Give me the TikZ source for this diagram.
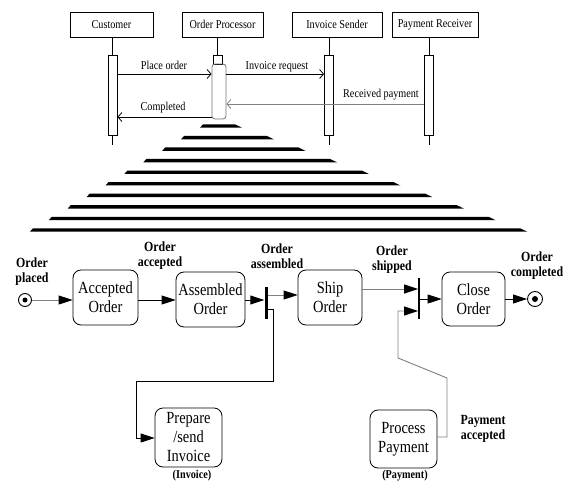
\documentclass[tikz,border=0pt]{standalone}
\usepackage{fontspec}
\setmainfont{Liberation Serif}
\newfontfamily\cond{Liberation Serif}[FakeStretch=0.85]
\usetikzlibrary{arrows.meta,calc}

\begin{document}
\begin{tikzpicture}[x=1pt,y=-1pt,
  seqfont/.style={font=\cond\fontsize{12}{12}\selectfont},
  lbl/.style={seqfont, inner sep=0, anchor=base},
  actor/.style={draw, line width=0.8pt, seqfont, minimum height=25pt, inner sep=0},
  actbar/.style={draw, line width=0.8pt, minimum width=9pt, inner sep=0, fill=white},
  life/.style={line width=0.8pt},
  msg/.style={line width=0.8pt, -{Straight Barb[length=4pt,width=9pt]}},
  state/.style={draw, rounded corners=8pt, line width=0.8pt,
    font=\cond\fontsize{17}{19}\selectfont, align=center, inner sep=0},
  ev/.style={font=\cond\bfseries\fontsize{14}{15}\selectfont, align=center, inner sep=0},
  tag/.style={font=\cond\bfseries\fontsize{12}{12}\selectfont, inner sep=0},
  tr/.style={line width=0.9pt, -{Triangle[length=14pt,width=9pt,black]}},
  grey/.style={draw=black!50},
  pseudo/.style={circle, draw, line width=0.9pt, inner sep=0},
]
\useasboundingbox (0,0) rectangle (567,481);

% ---------- sequence part ----------
\node[actor, minimum width=83pt] (cust) at (111.5,24.5) {Customer};
\node[actor, minimum width=81pt] (proc) at (222.5,24.5) {Order Processor};
\node[actor, minimum width=90pt] (inv)  at (337,24.5)   {Invoice Sender};
\node[actor, minimum width=86pt] (pay)  at (435,24.5)   {Payment Receiver};

\node[actbar, minimum height=80pt] (ca) at (112.5,95) {};
\node[actbar, minimum height=80pt] (ia) at (329,95) {};
\node[actbar, minimum height=80pt] (pa) at (429,95) {};
\node[actbar, minimum height=9pt]  (sq) at (217.5,59.5) {};
\node[draw=black!55, line width=0.8pt, rounded corners=3pt, inner sep=0,
      minimum width=14pt, minimum height=55pt] (oa) at (219,91.5) {};

\draw[life] (cust.south -| ca) -- (ca.north);
\draw[life] (ca.south) -- ++(0,10);
\draw[life] (proc.south -| sq) -- (sq.north);
\draw[life] (inv.south -| ia) -- (ia.north);
\draw[life] (ia.south) -- ++(0,10);
\draw[life] (pay.south -| pa) -- (pa.north);
\draw[life] (pa.south) -- ++(0,10);

\draw[msg] (ca.east |- 0,74) -- (oa.west |- 0,74);
\draw[msg] (oa.east |- 0,74) -- (ia.west |- 0,74);
\draw[msg, grey] (pa.west |- 0,104) -- (oa.east |- 0,104);
\draw[msg] (oa.west |- 0,117) -- (ca.east |- 0,117);

\node[lbl] (m1) at (164,70)  {Place order};
\node[lbl] (m2) at (277,70)  {Invoice request};
\node[lbl] (m3) at (381,98)  {Received payment};
\node[lbl] (m4) at (163,111) {Completed};

% ---------- stacked bars ----------
\foreach \i in {0,...,9} {
  \pgfmathsetmacro{\yy}{126+11.56*\i}
  \pgfmathsetmacro{\ll}{200-18.9*\i}
  \pgfmathsetmacro{\rr}{242+31.7*\i}
  \fill (\ll+3,\yy-1.7) -- (\rr-7,\yy-1.7) -- (\rr,\yy+1.7) -- (\ll,\yy+1.7) -- cycle;
}

% ---------- activity part ----------
\node[pseudo, minimum size=13pt,
      path picture={\fill (path picture bounding box.center) circle (2.5pt);}] (init) at (25,300) {};
\node[pseudo, minimum size=15pt,
      path picture={\fill (path picture bounding box.center) circle (3pt);}] (fin) at (535,299) {};

\node[state, minimum width=65pt, minimum height=55pt] (acc)   at (105.5,297.5) {Accepted\\Order};
\node[state, minimum width=69pt, minimum height=55pt] (asm)   at (210.5,299.5) {Assembled\\Order};
\node[state, minimum width=64pt, minimum height=55pt] (ship)  at (330,297.5)   {Ship\\Order};
\node[state, minimum width=63pt, minimum height=54pt] (close) at (473.5,299)   {Close\\Order};
\node[state, minimum width=67pt, minimum height=59pt] (prep)  at (188.5,437.5) {Prepare\\/send\\Invoice};
\node[state, minimum width=67pt, minimum height=58pt] (procp) at (403.5,439)   {Process\\Payment};

\node[fill, inner sep=0, minimum width=3pt, minimum height=32pt] (fork) at (266,303) {};
\node[fill, inner sep=0, minimum width=1.2pt, minimum height=41pt] (join) at (419,298.5) {};

\draw[tr, grey] (init) -- (acc.west |- init);
\draw[tr] (acc.east |- 0,300) -- (asm.west |- 0,300);
\draw[tr] (asm.east |- 0,300) -- (fork.west |- 0,300);
\draw[tr, grey] (fork.east |- 0,295) -- (ship.west |- 0,295);
\draw[tr, grey] (ship.east |- 0,289) -- (join.west |- 0,289);
\draw[tr] (join.east |- 0,299) -- (close.west |- 0,299);
\draw[tr] (close.east |- fin) -- (fin.west);
\draw[tr] (fork.east |- 0,309) -| (273,381) -| (136,438) -- (prep.west |- 0,438);
\draw[tr, grey] (procp.east |- 0,437) -| (447,378) -- (398,358) |- (join.west |- 0,311);

\node[ev] (e1) at (32,272)  {Order\\placed};
\node[ev] (e2) at (160,256) {Order\\accepted};
\node[ev] (e3) at (277,256) {Order\\assembled};
\node[ev] (e4) at (392,260) {Order\\shipped};
\node[ev] (e5) at (537,266) {Order\\completed};
\node[ev] (e6) at (483,429) {Payment\\accepted};
\node[tag] (t1) at (192,476) {(Invoice)};
\node[tag] (t2) at (405,476) {(Payment)};
\end{tikzpicture}
\end{document}
